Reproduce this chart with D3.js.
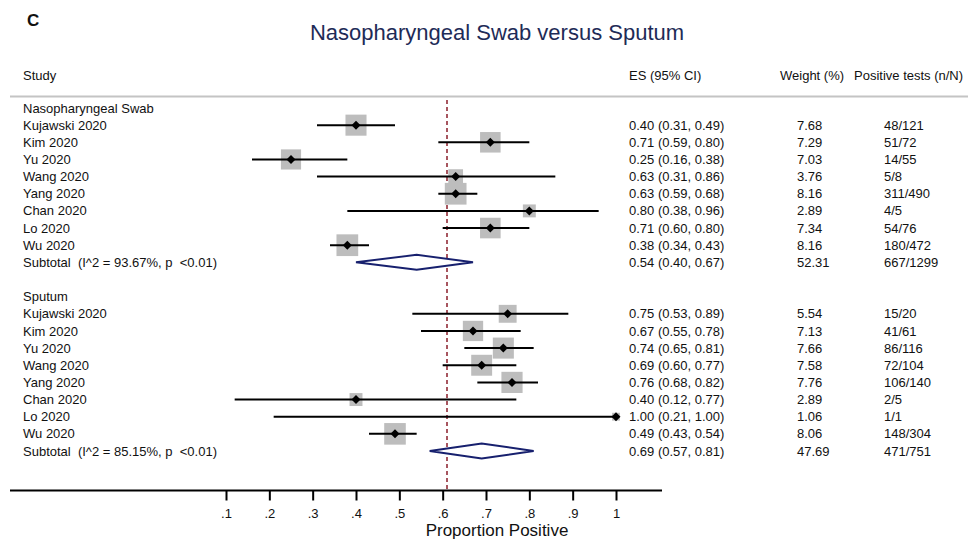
<!DOCTYPE html>
<html>
<head>
  <meta charset="utf-8">
  <title>Nasopharyngeal Swab versus Sputum</title>
  <script src="https://d3js.org/d3.v7.min.js"></script>
  <style>
    body { margin: 0; background: white; }
    svg text { font-family: "Liberation Sans", Arial, sans-serif; fill: #111; white-space: pre; }
  </style>
</head>
<body>
  <svg id="chart" width="968" height="539"></svg>

  <script>
    // study names (same order in both groups)
    let studies = ["Kujawski 2020", "Kim 2020", "Yu 2020", "Wang 2020", "Yang 2020", "Chan 2020", "Lo 2020", "Wu 2020"];

    // nasopharyngeal swab
    let npES = [0.40, 0.71, 0.25, 0.63, 0.63, 0.80, 0.71, 0.38];
    let npLow = [0.31, 0.59, 0.16, 0.31, 0.59, 0.38, 0.60, 0.34];
    let npHigh = [0.49, 0.80, 0.38, 0.86, 0.68, 0.96, 0.80, 0.43];
    let npWeight = [7.68, 7.29, 7.03, 3.76, 8.16, 2.89, 7.34, 8.16];
    let npTests = ["48/121", "51/72", "14/55", "5/8", "311/490", "4/5", "54/76", "180/472"];
    let npSubtotal = { es: 0.54, low: 0.40, high: 0.67, weight: 52.31, tests: "667/1299", label: "Subtotal  (I^2 = 93.67%, p  <0.01)" };

    // sputum
    let spES = [0.75, 0.67, 0.74, 0.69, 0.76, 0.40, 1.00, 0.49];
    let spLow = [0.53, 0.55, 0.65, 0.60, 0.68, 0.12, 0.21, 0.43];
    let spHigh = [0.89, 0.78, 0.81, 0.77, 0.82, 0.77, 1.00, 0.54];
    let spWeight = [5.54, 7.13, 7.66, 7.58, 7.76, 2.89, 1.06, 8.06];
    let spTests = ["15/20", "41/61", "86/116", "72/104", "106/140", "2/5", "1/1", "148/304"];
    let spSubtotal = { es: 0.69, low: 0.57, high: 0.81, weight: 47.69, tests: "471/751", label: "Subtotal  (I^2 = 85.15%, p  <0.01)" };

    let overall = 0.61;
    let tickValues = [0.1, 0.2, 0.3, 0.4, 0.5, 0.6, 0.7, 0.8, 0.9, 1];

    let svg = d3.select("#chart");
    let f2 = d3.format(".2f");

    // build rows: header, studies, subtotal, blank, header, studies, subtotal
    let rows = [];
    function addGroup(name, es, lo, hi, w, tests, sub) {
      rows.push({ type: "header", label: name });
      studies.forEach((s, i) => {
        rows.push({ type: "study", label: s, es: es[i], low: lo[i], high: hi[i], weight: w[i], tests: tests[i] });
      });
      rows.push(Object.assign({ type: "subtotal" }, sub));
    }
    addGroup("Nasopharyngeal Swab", npES, npLow, npHigh, npWeight, npTests, npSubtotal);
    rows.push({ type: "blank" });
    addGroup("Sputum", spES, spLow, spHigh, spWeight, spTests, spSubtotal);
    rows.forEach((d, i) => d.idx = i);

    let x = d3.scaleLinear().domain([0.1, 1]).range([226, 616]);
    let y = d3.scalePoint().domain(d3.range(rows.length)).range([108, 451]);
    let boxSide = d3.scaleSqrt().domain([0, 8]).range([0, 21.5]);

    // panel letter and title
    svg.append("text").attr("x", 27).attr("y", 26)
      .style("font-size", "17px").style("font-weight", "bold").text("C");
    svg.append("text").attr("x", 497).attr("y", 40).attr("text-anchor", "middle")
      .style("font-size", "22px").style("fill", "#1e2b57")
      .text("Nasopharyngeal Swab versus Sputum");

    // column headers
    let headY = 75;
    let cols = { study: 23, es: 629, weight: 780, tests: 854 };
    [["Study", cols.study], ["ES (95% CI)", cols.es], ["Weight (%)", cols.weight], ["Positive tests (n/N)", cols.tests]]
      .forEach(h => {
        svg.append("text").attr("x", h[1]).attr("y", headY).attr("dy", "0.35em")
          .style("font-size", "13px").text(h[0]);
      });

    svg.append("line").attr("x1", 10).attr("x2", 968).attr("y1", 96.5).attr("y2", 96.5)
      .style("stroke", "#c4c4c4").style("stroke-width", 2);

    // overall reference line
    svg.append("line")
      .attr("x1", x(overall)).attr("x2", x(overall))
      .attr("y1", 100).attr("y2", 490)
      .style("stroke", "#8b1e2a").style("stroke-width", 1.5)
      .style("stroke-dasharray", "4,3");

    let studyRows = rows.filter(d => d.type === "study");
    let subRows = rows.filter(d => d.type === "subtotal");

    // weight boxes
    svg.selectAll("rect.box").data(studyRows).join("rect")
      .attr("class", "box")
      .attr("x", d => x(d.es) - boxSide(d.weight) / 2)
      .attr("y", d => y(d.idx) - boxSide(d.weight) / 2)
      .attr("width", d => boxSide(d.weight))
      .attr("height", d => boxSide(d.weight))
      .style("fill", "#bdbdbd");

    // confidence intervals
    svg.selectAll("line.ci").data(studyRows).join("line")
      .attr("class", "ci")
      .attr("x1", d => x(d.low)).attr("x2", d => x(d.high))
      .attr("y1", d => y(d.idx)).attr("y2", d => y(d.idx))
      .style("stroke", "black").style("stroke-width", 2);

    // point estimates
    svg.selectAll("path.pt").data(studyRows).join("path")
      .attr("class", "pt")
      .attr("d", d => {
        let cx = x(d.es), cy = y(d.idx), r = 4.5;
        return `M${cx - r},${cy}L${cx},${cy - r}L${cx + r},${cy}L${cx},${cy + r}Z`;
      })
      .style("fill", "black");

    // subtotal diamonds
    svg.selectAll("path.sub").data(subRows).join("path")
      .attr("class", "sub")
      .attr("d", d => {
        let cy = y(d.idx), h = 7.5;
        return `M${x(d.low)},${cy}L${x(d.es)},${cy - h}L${x(d.high)},${cy}L${x(d.es)},${cy + h}Z`;
      })
      .style("fill", "white").style("stroke", "#17206e").style("stroke-width", 2);

    // left labels
    svg.selectAll("text.lab").data(rows.filter(d => d.type !== "blank")).join("text")
      .attr("class", "lab")
      .attr("x", cols.study).attr("y", d => y(d.idx)).attr("dy", "0.35em")
      .style("font-size", "13px").text(d => d.label);

    // right columns
    let valRows = rows.filter(d => d.type === "study" || d.type === "subtotal");
    svg.selectAll("text.es").data(valRows).join("text")
      .attr("class", "es")
      .attr("x", cols.es).attr("y", d => y(d.idx)).attr("dy", "0.35em")
      .style("font-size", "13px")
      .text(d => `${f2(d.es)} (${f2(d.low)}, ${f2(d.high)})`);
    svg.selectAll("text.wt").data(valRows).join("text")
      .attr("class", "wt")
      .attr("x", 797).attr("y", d => y(d.idx)).attr("dy", "0.35em")
      .style("font-size", "13px").text(d => f2(d.weight));
    svg.selectAll("text.nt").data(valRows).join("text")
      .attr("class", "nt")
      .attr("x", 884).attr("y", d => y(d.idx)).attr("dy", "0.35em")
      .style("font-size", "13px").text(d => d.tests);

    // x axis
    let axisY = 490.5;
    svg.append("line").attr("x1", 10).attr("x2", 662).attr("y1", axisY).attr("y2", axisY)
      .style("stroke", "black").style("stroke-width", 2);
    let axis = svg.append("g").attr("transform", `translate(0,${axisY})`)
      .call(d3.axisBottom(x).tickValues(tickValues).tickSize(10).tickPadding(8)
        .tickFormat(d => d === 1 ? "1" : d3.format(".1f")(d).replace(/^0/, "")));
    axis.select(".domain").remove();
    axis.selectAll(".tick line").style("stroke", "black").style("stroke-width", 2);
    axis.selectAll(".tick text").style("font-size", "13px").style("font-family", "'Liberation Sans', Arial, sans-serif").attr("fill", "#111");

    svg.append("text").attr("x", 497).attr("y", 530).attr("dy", "0.35em")
      .attr("text-anchor", "middle").style("font-size", "17px")
      .text("Proportion Positive");
  </script>
</body>
</html>
